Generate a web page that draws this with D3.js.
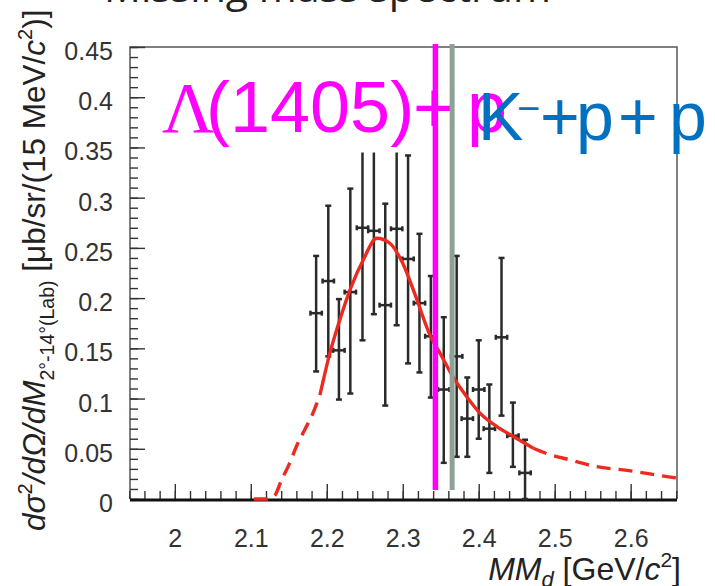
<!DOCTYPE html>
<html>
<head>
<meta charset="utf-8">
<script src="https://cdn.jsdelivr.net/npm/d3@7"></script>
<style>
  body { margin: 0; background: #fff; }
  svg { display: block; }
</style>
</head>
<body>
<div id="chart"></div>
<script>
// measured points, 15 MeV bins
const pointX = [2.186, 2.202, 2.216, 2.231, 2.247, 2.262, 2.277, 2.292, 2.307, 2.322, 2.337, 2.354, 2.371, 2.385, 2.400, 2.414, 2.430, 2.445, 2.461]
const pointY = [0.185, 0.217, 0.148, 0.206, 0.270, 0.267, 0.193, 0.269, 0.239, 0.195, 0.162, 0.109, 0.142, 0.080, 0.109, 0.070, 0.161, 0.063, 0.026]
const errHigh = [0.242, 0.292, 0.199, 0.309, 0.37, 0.37, 0.294, 0.37, 0.342, 0.264, 0.222, 0.181, 0.242, 0.121, 0.158, 0.114, 0.240, 0.096, 0.059]
const errLow = [0.127, 0.142, 0.099, 0.105, 0.158, 0.184, 0.093, 0.173, 0.135, 0.126, 0.101, 0.036, 0.042, 0.042, 0.060, 0.026, 0.083, 0.032, 0.0]
const binHalf = 0.0075

// fitted curve
const fitX = [2.104, 2.121, 2.131, 2.140, 2.151, 2.161, 2.171, 2.181, 2.191, 2.204, 2.217, 2.232, 2.248, 2.266, 2.283, 2.300, 2.316, 2.336, 2.350, 2.365, 2.384, 2.401, 2.423, 2.445, 2.472, 2.491, 2.52, 2.55, 2.60, 2.65, 2.66]
const fitY = [0, 0, 0.003, 0.018, 0.0355, 0.054, 0.069, 0.084, 0.1035, 0.145, 0.178, 0.211, 0.238, 0.2596, 0.2546, 0.2347, 0.204, 0.163, 0.144, 0.123, 0.102, 0.086, 0.0725, 0.0625, 0.0505, 0.0448, 0.039, 0.033, 0.028, 0.022, 0.021]
const solidRange = [2.191, 2.472]

// thresholds
const lambdaP = 2.343
const kpp = 2.365

const xTicks = [2, 2.1, 2.2, 2.3, 2.4, 2.5, 2.6]
const xTickLabels = ["2", "2.1", "2.2", "2.3", "2.4", "2.5", "2.6"]
const yTicks = [0, 0.05, 0.1, 0.15, 0.2, 0.25, 0.3, 0.35, 0.4, 0.45]
const yTickLabels = ["0", "0.05", "0.1", "0.15", "0.2", "0.25", "0.3", "0.35", "0.4", "0.45"]

const W = 715, H = 586
const plotLeft = 130, plotRight = 677, plotTop = 47, plotBottom = 499

const svg = d3.select("#chart").append("svg").attr("width", W).attr("height", H)

const x = d3.scaleLinear().domain([1.941, 2.661]).range([plotLeft, plotRight])
const y = d3.scaleLinear().domain([0, 0.45]).range([plotBottom, plotTop])

// title, mostly cut off at the top
svg.append("text")
  .attr("x", 104).attr("y", 2)
  .attr("font-family", "Open Sans").attr("font-size", 41)
  .attr("fill", "#222")
  .text("Missing mass spectrum")

// frame
svg.append("path")
  .attr("d", `M${plotLeft},${plotBottom}V${plotTop}H${plotRight}V${plotBottom}`)
  .attr("fill", "none").attr("stroke", "#555").attr("stroke-width", 1.5)

// y axis
const yMinor = d3.range(0, 0.451, 0.01)
svg.append("g").attr("transform", `translate(${plotLeft},0)`)
  .call(d3.axisLeft(y).tickValues(yMinor).tickSize(-8).tickFormat(""))
  .call(g => g.select(".domain").remove())
  .call(g => g.selectAll("line").attr("stroke", "#333").attr("stroke-width", 1.4))
svg.append("g").attr("transform", `translate(${plotLeft},0)`)
  .call(d3.axisLeft(y).tickValues(yTicks).tickSize(-15).tickPadding(17)
    .tickFormat((d, i) => yTickLabels[i]))
  .call(g => g.select(".domain").remove())
  .call(g => g.selectAll("line").attr("stroke", "#333").attr("stroke-width", 1.4))
  .call(g => g.selectAll("text").attr("font-family", "Liberation Sans").attr("font-size", 25)
    .attr("fill", "#333").attr("dy", "0.5em"))

// x axis
const xMinor = d3.range(1.94, 2.661, 0.02)
svg.append("g").attr("transform", `translate(0,${plotBottom})`)
  .call(d3.axisBottom(x).tickValues(xMinor).tickSize(-8).tickFormat(""))
  .call(g => g.select(".domain").remove())
  .call(g => g.selectAll("line").attr("stroke", "#333").attr("stroke-width", 1.4))
svg.append("g").attr("transform", `translate(0,${plotBottom})`)
  .call(d3.axisBottom(x).tickValues(xTicks).tickSize(-15).tickPadding(30)
    .tickFormat((d, i) => xTickLabels[i]))
  .call(g => g.select(".domain").remove())
  .call(g => g.selectAll("line").attr("stroke", "#333").attr("stroke-width", 1.4))
  .call(g => g.selectAll("text").attr("font-family", "Liberation Sans").attr("font-size", 25)
    .attr("fill", "#333"))
svg.append("line")
  .attr("x1", plotLeft).attr("x2", plotRight).attr("y1", plotBottom + 1).attr("y2", plotBottom + 1)
  .attr("stroke", "#111").attr("stroke-width", 3)

// error bars
const points = pointX.map((v, i) => ({ x: v, y: pointY[i], hi: errHigh[i], lo: errLow[i] }))
const bars = svg.append("g").attr("stroke", "#2a2a2a").attr("stroke-width", 2.5)
points.forEach(p => {
  const cx = x(p.x)
  bars.append("line").attr("x1", cx).attr("x2", cx).attr("y1", y(p.hi)).attr("y2", y(p.lo))
  bars.append("line").attr("x1", cx - 3).attr("x2", cx + 3).attr("y1", y(p.hi)).attr("y2", y(p.hi))
  bars.append("line").attr("x1", cx - 3).attr("x2", cx + 3).attr("y1", y(p.lo)).attr("y2", y(p.lo))
  const x0 = x(p.x - binHalf), x1 = x(p.x + binHalf)
  bars.append("line").attr("x1", x0).attr("x2", x1).attr("y1", y(p.y)).attr("y2", y(p.y))
  bars.append("line").attr("x1", x0).attr("x2", x0).attr("y1", y(p.y) - 2.5).attr("y2", y(p.y) + 2.5)
  bars.append("line").attr("x1", x1).attr("x2", x1).attr("y1", y(p.y) - 2.5).attr("y2", y(p.y) + 2.5)
})

// fit curve: solid over the data range, dashed outside
const fit = fitX.map((v, i) => [v, fitY[i]])
const lineGen = d3.line().x(d => x(d[0])).y(d => y(d[1])).curve(d3.curveMonotoneX)
const segs = [
  { pts: fit.filter(d => d[0] <= solidRange[0]), dash: "14,8" },
  { pts: fit.filter(d => d[0] >= solidRange[0] && d[0] <= solidRange[1]), dash: null },
  { pts: fit.filter(d => d[0] >= solidRange[1]), dash: "14,8" }
]
segs.forEach(s => {
  svg.append("path")
    .attr("d", lineGen(s.pts))
    .attr("fill", "none").attr("stroke", "#ec2a1f").attr("stroke-width", 3.4)
    .attr("stroke-dasharray", s.dash)
})

// white label box that hides the top of the tall bars
svg.append("rect")
  .attr("x", 160).attr("y", 58).attr("width", 332).attr("height", 94.5)
  .attr("fill", "#fff")

// Lambda(1405)+p label
const lam = svg.append("text").attr("y", 132).attr("fill", "#ff00ff").attr("font-size", 72)
lam.append("tspan").attr("x", 162).attr("font-family", "Liberation Serif").text("Λ")
lam.append("tspan").attr("x", 206).attr("font-family", "Liberation Sans").text("(1405)")
lam.append("tspan").attr("x", 413).attr("font-family", "Liberation Sans").text("+")
lam.append("tspan").attr("x", 467).attr("font-family", "Liberation Sans").text("p")

// threshold lines
svg.append("line")
  .attr("x1", x(lambdaP)).attr("x2", x(lambdaP)).attr("y1", 44).attr("y2", 490)
  .attr("stroke", "#ff00ff").attr("stroke-width", 5.5)
svg.append("line")
  .attr("x1", x(kpp)).attr("x2", x(kpp)).attr("y1", 44).attr("y2", 490)
  .attr("stroke", "#8fa096").attr("stroke-width", 5)

// K-pp label
const kl = svg.append("text").attr("y", 140).attr("fill", "#0070c0")
  .attr("font-family", "Liberation Sans").attr("font-size", 68)
kl.append("tspan").attr("x", 478).text("K")
kl.append("tspan").attr("x", 517).attr("y", 122).attr("font-size", 40).text("−")
kl.append("tspan").attr("x", 540).attr("y", 140).text("+")
kl.append("tspan").attr("x", 576).text("p")
kl.append("tspan").attr("x", 618).text("+")
kl.append("tspan").attr("x", 669).text("p")

// x title
const xt = svg.append("text").attr("x", 681).attr("y", 580).attr("text-anchor", "end")
  .attr("font-family", "Liberation Sans").attr("font-size", 32).attr("fill", "#222")
xt.append("tspan").attr("font-style", "italic").text("MM")
xt.append("tspan").attr("font-style", "italic").attr("font-size", 22).attr("dy", 7).text("d")
xt.append("tspan").attr("dy", -7).text(" [GeV/")
xt.append("tspan").attr("font-style", "italic").text("c")
xt.append("tspan").attr("font-size", 21).attr("dy", -13).text("2")
xt.append("tspan").attr("dy", 13).text("]")

// y title
const yt = svg.append("text").attr("transform", "translate(45,531) rotate(-90)")
  .attr("font-family", "Liberation Sans").attr("font-size", 31.5).attr("fill", "#222")
yt.append("tspan").attr("font-style", "italic").text("dσ")
yt.append("tspan").attr("font-size", 20).attr("dy", -13).text("2")
yt.append("tspan").attr("dy", 13).attr("font-style", "italic").text("/dΩ/dM")
yt.append("tspan").attr("font-size", 19.5).attr("dy", 9).text("2°-14°(Lab)")
yt.append("tspan").attr("dy", -9).text(" [μb/sr/(15 MeV/")
yt.append("tspan").attr("font-style", "italic").text("c")
yt.append("tspan").attr("font-size", 20).attr("dy", -13).text("2")
yt.append("tspan").attr("dy", 13).text(")]")
</script>
</body>
</html>
